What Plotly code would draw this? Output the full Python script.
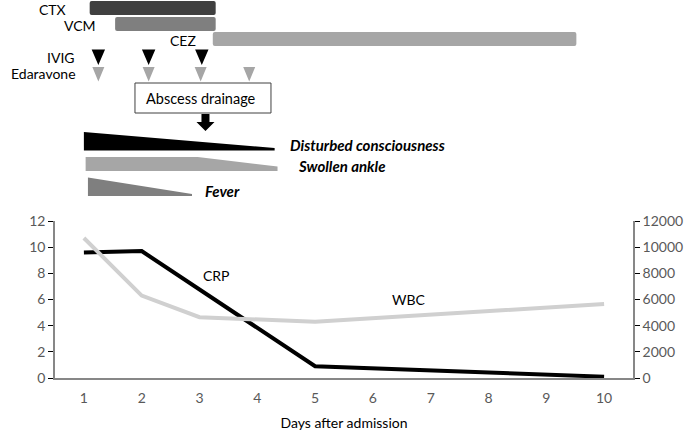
import plotly.graph_objects as go

# ---------------- data ----------------
days = list(range(1, 11))
crp_days = [1, 2, 5, 10]
crp_vals = [9.6, 9.7, 0.9, 0.1]
wbc_days = [1, 2, 3, 5, 10]
wbc_vals = [10700, 6300, 4650, 4300, 5650]
crp_ticks = [0, 2, 4, 6, 8, 10, 12]
wbc_ticks = [0, 2000, 4000, 6000, 8000, 10000, 12000]
wbc_ticktext = ["0", "2000", "4000", "6000", "8000", "10000", "12000"]

drugs = ["CTX", "VCM", "CEZ"]
drug_start = [1.10, 1.54, 3.23]
drug_end = [3.28, 3.28, 9.52]
drug_colors = ["#404040", "#7f7f7f", "#a6a6a6"]

ivig_days = [1.25, 2.12, 3.04]
edaravone_days = [1.25, 2.12, 3.02, 3.86]
abscess_day = 3.06

symptoms = ["Disturbed consciousness", "Swollen ankle", "Fever"]
sym_start = [1.00, 1.03, 1.07]
sym_plateau = [1.00, 2.97, 1.07]
sym_end = [4.30, 4.35, 2.87]
sym_colors = ["#000000", "#a6a6a6", "#7f7f7f"]

FONT = "Lato"
FS = 14
PX = 57.8  # pixels per day (for converting marker sizes)

fig = go.Figure()

# lines
fig.add_trace(go.Scatter(x=wbc_days, y=wbc_vals, mode="lines", yaxis="y2",
                         line=dict(color="#d0d0d0", width=4), showlegend=False))
fig.add_trace(go.Scatter(x=crp_days, y=crp_vals, mode="lines", yaxis="y",
                         line=dict(color="#000000", width=4), showlegend=False))

# ---- top timeline (y3 in pixel-like units from the top) ----
bar_rows = [(1, 15), (17, 31), (32, 46)]
shapes = []
R = 2.0  # corner radius in px
for s, e, c, (y0, y1) in zip(drug_start, drug_end, drug_colors, bar_rows):
    rx = R / PX
    path = (f"M{s+rx},{y0} L{e-rx},{y0} Q{e},{y0} {e},{y0+R} L{e},{y1-R} Q{e},{y1} {e-rx},{y1} "
            f"L{s+rx},{y1} Q{s},{y1} {s},{y1-R} L{s},{y0+R} Q{s},{y0} {s+rx},{y0} Z")
    shapes.append(dict(type="path", xref="x", yref="y3", path=path,
                       fillcolor=c, line=dict(width=0)))

def tri_trace(xs, top, bottom, halfw_px, color):
    X, Y = [], []
    hw = halfw_px / PX
    for d in xs:
        X += [d - hw, d + hw, d, d - hw, None]
        Y += [top, top, bottom, top, None]
    return go.Scatter(x=X, y=Y, yaxis="y3", mode="lines", fill="toself",
                      fillcolor=color, line=dict(width=0, color=color),
                      showlegend=False, hoverinfo="skip")

fig.add_trace(tri_trace(ivig_days, 49.5, 65, 6.7, "#000000"))
fig.add_trace(tri_trace(edaravone_days, 67, 81.5, 6.0, "#a6a6a6"))

# abscess drainage box + arrow
bw = 68 / PX
shapes.append(dict(type="rect", xref="x", yref="y3", x0=abscess_day - bw, x1=abscess_day + bw,
                   y0=83, y1=113, line=dict(color="#404040", width=1), fillcolor="white"))
sw, hw = 4 / PX, 9 / PX
a = abscess_day + 2.5 / PX
shapes.append(dict(type="path", xref="x", yref="y3",
                   path=f"M{a-sw},114 L{a+sw},114 L{a+sw},122 L{a+hw},122 L{a},131 L{a-hw},122 L{a-sw},122 Z",
                   fillcolor="#000000", line=dict(width=0)))

# symptom wedges
sym_geo = [(132, 150.5, 148.0, 132), (157, 171, 166.5, 157), (177.5, 196, 194.0, 177.5)]
for s, p, e, c, (top, bot, tip, ptop) in zip(sym_start, sym_plateau, sym_end, sym_colors, sym_geo):
    path = f"M{s},{top} L{p},{ptop} L{e},{tip} L{e},{bot} L{s},{bot} Z"
    shapes.append(dict(type="path", xref="x", yref="y3", path=path,
                       fillcolor=c, line=dict(width=0)))

ann = []
def txt(x, y, t, size=FS, xanchor="center", yref="y3", xref="x", bold=False, italic=False, color="#000"):
    if bold:
        t = f"<b>{t}</b>"
    if italic:
        t = f"<i>{t}</i>"
    ann.append(dict(x=x, y=y, xref=xref, yref=yref, text=t, showarrow=False,
                    xanchor=xanchor, yanchor="middle",
                    font=dict(family=FONT, size=size, color=color)))

def dx(px):
    return (px - 55) / PX + 0.5

txt(dx(68), 9, "CTX", xanchor="right")
txt(dx(98), 25, "VCM", xanchor="right")
txt(dx(198), 40, "CEZ", xanchor="right")
txt(dx(77), 57, "IVIG", xanchor="right")
txt(dx(78), 73, "Edaravone", xanchor="right")
txt(abscess_day - 2 / PX, 98, "Abscess drainage", size=14.5)
txt(dx(288), 145, symptoms[0], size=15, xanchor="left", bold=True, italic=True)
txt(dx(296), 166, symptoms[1], size=15, xanchor="left", bold=True, italic=True)
txt(dx(203), 191, symptoms[2], size=15, xanchor="left", bold=True, italic=True)
txt(dx(0), 196.5, "CRP (mg/dL)", xanchor="left")
txt(dx(684), 195.5, "WBC (/µL)", xanchor="right")
# series labels in data coords
ann.append(dict(x=3.29, y=7.85, xref="x", yref="y", text="CRP", showarrow=False,
                font=dict(family=FONT, size=FS, color="#000")))
ann.append(dict(x=6.62, y=6.0, xref="x", yref="y", text="WBC", showarrow=False,
                font=dict(family=FONT, size=FS, color="#000")))

H_TOP = 205
plot_h = 378
tickfont = dict(family=FONT, size=FS, color="#595959")
fig.update_layout(
    width=685, height=433,
    margin=dict(l=55, r=52, t=0, b=55, autoexpand=False),
    paper_bgcolor="white", plot_bgcolor="white",
    shapes=shapes, annotations=ann,
    xaxis=dict(range=[0.5, 10.5], tickvals=days, ticks="", showline=True,
               linecolor="#878787", linewidth=2, showgrid=False, zeroline=False,
               tickfont=tickfont, ticklabelstandoff=6,
               title=dict(text="Days after admission", standoff=13,
                          font=dict(family=FONT, size=FS, color="#000")),
               anchor="y", fixedrange=True),
    yaxis=dict(domain=[0, 157 / plot_h], range=[0, 12], tickvals=crp_ticks, ticks="outside",
               ticklen=5, tickcolor="#000", showline=True, linecolor="#878787",
               linewidth=1.5, showgrid=False, zeroline=False, tickfont=tickfont),
    yaxis2=dict(overlaying="y", side="right", range=[0, 12000], tickvals=wbc_ticks,
                ticktext=wbc_ticktext,
                ticks="outside", ticklen=5, tickcolor="#000", showline=True,
                linecolor="#878787", linewidth=1.5, showgrid=False, zeroline=False,
                tickfont=tickfont),
    yaxis3=dict(domain=[(plot_h - H_TOP) / plot_h, 1], range=[H_TOP, 0], visible=False,
                anchor="x", showgrid=False, zeroline=False),
    showlegend=False,
)

fig.write_html("out.html", config={"displayModeBar": False},
               post_script="document.body.style.margin='0';")
